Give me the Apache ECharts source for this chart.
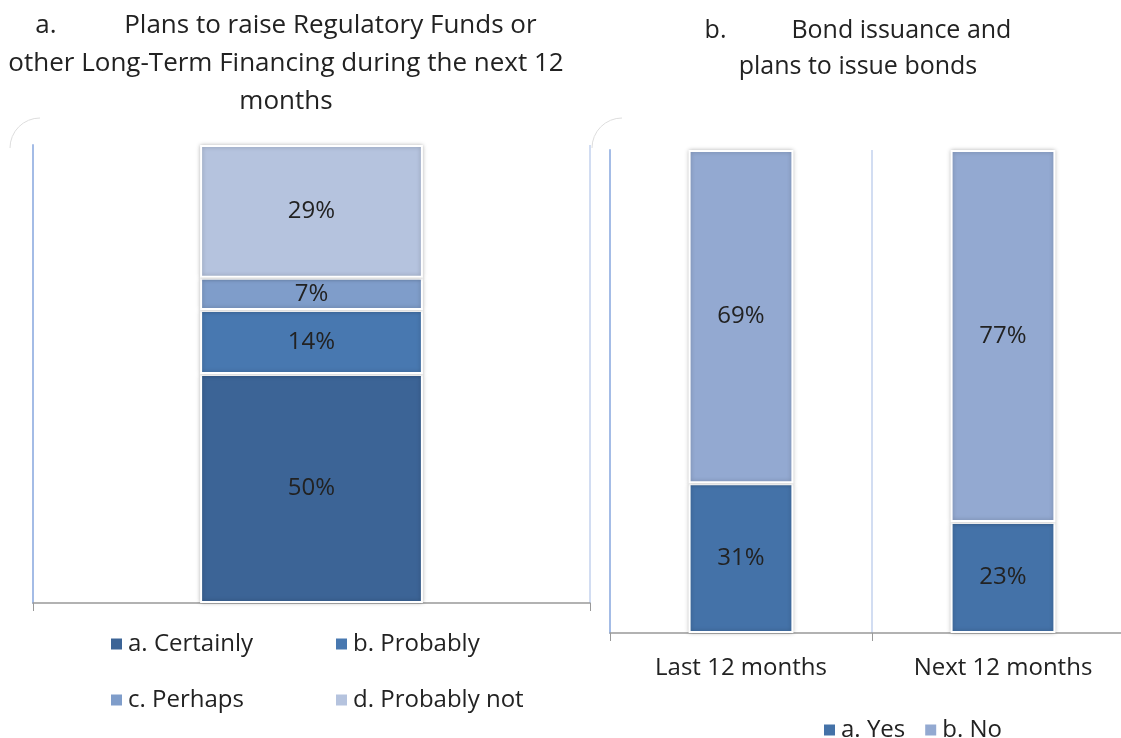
<!DOCTYPE html>
<html>
<head>
<meta charset="utf-8">
<script src="https://cdn.jsdelivr.net/npm/echarts@6/dist/echarts.min.js"></script>
<style>
  html, body { margin: 0; padding: 0; background: #fff; overflow: hidden; }
  /* the right panel runs past the window edge, so the canvas is wider than the page */
  #main { width: 1140px; height: 738px; }
</style>
</head>
<body>
<div id="main"></div>
<script>
// panel a: plans to raise funds
var planNames = ['a. Certainly', 'b. Probably', 'c. Perhaps', 'd. Probably not'];
var planValues = [50, 14, 7, 29];
var planColors = ['#3c6496', '#4878b0', '#7f9dca', '#b5c3de'];

// panel b: bond issuance
var bondCategories = ['Last 12 months', 'Next 12 months'];
var bondYes = [31, 23];
var bondNo = [69, 77];
var bondColors = ['#4472a8', '#93a9d1'];

var FONT = '"Open Sans", sans-serif';
var TEXT = '#222';
var FS = 24;

var myChart = echarts.init(document.getElementById('main'));

var series = [];
planNames.forEach(function (name, i) {
  series.push({
    name: name,
    type: 'bar',
    stack: 'plans',
    xAxisIndex: 0,
    yAxisIndex: 0,
    barWidth: '40%',
    data: [planValues[i]],
    itemStyle: {
      color: planColors[i],
      borderColor: '#fff',
      borderWidth: 2,
      shadowBlur: 4,
      shadowColor: 'rgba(0,0,0,0.25)'
    },
    label: {
      show: true,
      position: 'inside',
      formatter: '{c}%',
      fontSize: FS,
      fontFamily: FONT,
      color: TEXT
    }
  });
});

[['a. Yes', bondYes], ['b. No', bondNo]].forEach(function (s, i) {
  series.push({
    name: s[0],
    type: 'bar',
    stack: 'bonds',
    xAxisIndex: 1,
    yAxisIndex: 1,
    barWidth: '40%',
    data: s[1],
    itemStyle: {
      color: bondColors[i],
      borderColor: '#fff',
      borderWidth: 2,
      shadowBlur: 4,
      shadowColor: 'rgba(0,0,0,0.25)'
    },
    label: {
      show: true,
      position: 'inside',
      formatter: '{c}%',
      fontSize: FS,
      fontFamily: FONT,
      color: TEXT
    }
  });
});

function legendAt(name, left, top) {
  return {
    data: [name],
    left: left,
    top: top,
    icon: 'rect',
    itemWidth: 13,
    itemHeight: 13,
    itemGap: 6,
    textStyle: { fontSize: FS, fontFamily: FONT, color: TEXT },
    selectedMode: false
  };
}

var option = {
  animation: false,
  textStyle: { fontFamily: FONT },
  title: [{
    text: 'a.          Plans to raise Regulatory Funds or\nother Long-Term Financing during the next 12\nmonths',
    left: 281,
    top: 2,
    textAlign: 'center',
    textStyle: { fontSize: 26, fontWeight: 'normal', fontFamily: FONT, color: TEXT, lineHeight: 38 }
  }, {
    text: 'b.          Bond issuance and\nplans to issue bonds',
    left: 853,
    top: 8,
    textAlign: 'center',
    textStyle: { fontSize: 25, fontWeight: 'normal', fontFamily: FONT, color: TEXT, lineHeight: 36 }
  }],
  legend: [
    legendAt('a. Certainly', 104, 627),
    legendAt('b. Probably', 329, 627),
    legendAt('c. Perhaps', 104, 683),
    legendAt('d. Probably not', 329, 683),
    {
      data: ['a. Yes', 'b. No'],
      left: 817,
      top: 713,
      icon: 'rect',
      itemWidth: 13,
      itemHeight: 13,
      itemGap: 18,
      itemTextGap: 5,
      textStyle: { fontSize: FS, fontFamily: FONT, color: TEXT },
      selectedMode: false
    }
  ],
  grid: [
    { left: 33, top: 145, width: 557, bottom: 135 },
    { left: 610, top: 150, width: 524, bottom: 105 }
  ],
  xAxis: [{
    type: 'category',
    gridIndex: 0,
    data: [''],
    axisLine: { lineStyle: { color: '#999', width: 1.5 } },
    axisTick: { show: true, length: 8, lineStyle: { color: '#999' } },
    axisLabel: { show: false },
    splitLine: { show: true, lineStyle: { color: '#c3d2ee', width: 1.5 } }
  }, {
    type: 'category',
    gridIndex: 1,
    data: bondCategories,
    axisLine: { lineStyle: { color: '#999', width: 1.5 } },
    axisTick: { show: true, length: 8, lineStyle: { color: '#999' } },
    axisLabel: { fontSize: FS, fontFamily: FONT, color: TEXT, margin: 23 },
    splitLine: { show: true, lineStyle: { color: '#c3d2ee', width: 1.5 } }
  }],
  yAxis: [{
    type: 'value',
    gridIndex: 0,
    min: 0,
    max: 100,
    axisLabel: { show: false },
    axisTick: { show: false },
    splitLine: { show: false },
    axisLine: { show: true, lineStyle: { color: '#a4bce6', width: 2 } }
  }, {
    type: 'value',
    gridIndex: 1,
    min: 0,
    max: 100,
    axisLabel: { show: false },
    axisTick: { show: false },
    splitLine: { show: false },
    axisLine: { show: true, lineStyle: { color: '#a4bce6', width: 2 } }
  }],
  graphic: [{
    type: 'arc',
    shape: { cx: 40, cy: 148, r: 30, startAngle: Math.PI, endAngle: Math.PI * 1.5 },
    style: { stroke: '#ddd', lineWidth: 1, fill: null }
  }, {
    type: 'arc',
    shape: { cx: 622, cy: 148, r: 30, startAngle: Math.PI, endAngle: Math.PI * 1.5 },
    style: { stroke: '#ddd', lineWidth: 1, fill: null }
  }],
  series: series
};

myChart.setOption(option);
</script>
</body>
</html>
